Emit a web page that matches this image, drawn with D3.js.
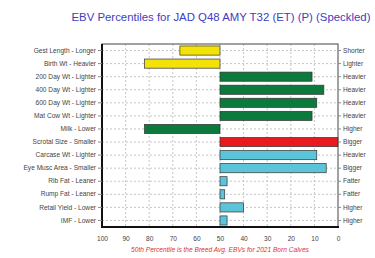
<!DOCTYPE html>
<html><head><meta charset="utf-8">
<script src="https://cdn.jsdelivr.net/npm/d3@7"></script>
<style>html,body{margin:0;padding:0;background:#fff;}svg{display:block;font-family:"Liberation Sans",Arial,sans-serif;}</style>
</head><body>
<script>
const traits = ["Gest Length - Longer","Birth Wt - Heavier","200 Day Wt - Lighter","400 Day Wt - Lighter","600 Day Wt - Lighter","Mat Cow Wt - Lighter","Milk - Lower","Scrotal Size - Smaller","Carcase Wt - Lighter","Eye Musc Area - Smaller","Rib Fat - Leaner","Rump Fat - Leaner","Retail Yield - Lower","IMF - Lower"];
const rightLabels = ["Shorter","Lighter","Heavier","Heavier","Heavier","Heavier","Higher","Bigger","Heavier","Bigger","Fatter","Fatter","Higher","Higher"];
const percentiles = [67,82,11,6,9,11,82,0,9,5,47,48,40,47];
const colors = ["#f2e205","#f2e205","#0b7a3c","#0b7a3c","#0b7a3c","#0b7a3c","#0b7a3c","#e8191f","#5cc4d9","#5cc4d9","#5cc4d9","#5cc4d9","#5cc4d9","#5cc4d9"];
const xTicks = [100,90,80,70,60,50,40,30,20,10,0];
const titleText = "EBV Percentiles for JAD Q48 AMY T32 (ET) (P) (Speckled)";
const noteText = "50th Percentile is the Breed Avg. EBVs for 2021 Born Calves";

const W=375,H=258, L=102, R=338, T=44, B=227;
const svg=d3.select("body").append("svg").attr("width",W).attr("height",H);
const x=d3.scaleLinear().domain([100,0]).range([L,R]);
const y=d3.scaleBand().domain(traits).range([T,B]).paddingInner(0.3).paddingOuter(0.15);

svg.append("text").attr("x",221).attr("y",21).attr("text-anchor","middle").attr("font-size",11.4).attr("fill","#4040c0").text(titleText);

// grid
const g=svg.append("g");
g.selectAll(".vg").data(xTicks.slice(1,-1)).enter().append("line")
 .attr("x1",d=>x(d)).attr("x2",d=>x(d)).attr("y1",T).attr("y2",B)
 .attr("stroke","#b8b8b8").attr("stroke-width",0.8).attr("stroke-dasharray","2,2");
g.selectAll(".hg").data(traits).enter().append("line")
 .attr("x1",L).attr("x2",R).attr("y1",d=>y(d)+y.bandwidth()/2).attr("y2",d=>y(d)+y.bandwidth()/2)
 .attr("stroke","#b8b8b8").attr("stroke-width",0.8).attr("stroke-dasharray","2,2");

// bars
svg.selectAll(".bar").data(traits).enter().append("rect")
 .attr("x",(d,i)=>Math.min(x(50),x(percentiles[i])))
 .attr("width",(d,i)=>Math.abs(x(percentiles[i])-x(50)))
 .attr("y",d=>y(d)).attr("height",y.bandwidth())
 .attr("fill",(d,i)=>colors[i]).attr("stroke","#333").attr("stroke-width",0.7);

// frame
svg.append("rect").attr("x",L).attr("y",T).attr("width",R-L).attr("height",B-T).attr("fill","none").attr("stroke","#444").attr("stroke-width",1);
svg.append("line").attr("x1",L).attr("x2",L).attr("y1",T).attr("y2",B+1).attr("stroke","#111").attr("stroke-width",2);
svg.append("line").attr("x1",L).attr("x2",R+1).attr("y1",B).attr("y2",B).attr("stroke","#111").attr("stroke-width",2);

// left labels
const ly=d3.axisLeft(y).tickSize(4).tickPadding(2);
const gl=svg.append("g").attr("transform",`translate(${L},0)`).call(ly);
gl.select(".domain").remove();
gl.selectAll("line").attr("stroke","#888");
gl.selectAll("text").attr("font-size",6.6).attr("fill","#444").attr("font-family","Liberation Sans, Arial, sans-serif");
// right labels
const ry=d3.axisRight(d3.scaleBand().domain(rightLabels.map((d,i)=>i)).range([T,B]).paddingInner(0.3).paddingOuter(0.15)).tickSize(3).tickPadding(2).tickFormat(i=>rightLabels[i]);
const gr=svg.append("g").attr("transform",`translate(${R},0)`).call(ry);
gr.select(".domain").remove();
gr.selectAll("line").attr("stroke","#888");
gr.selectAll("text").attr("font-size",6.6).attr("fill","#444").attr("font-family","Liberation Sans, Arial, sans-serif");
// bottom
const ax=d3.axisBottom(x).tickValues(xTicks).tickSize(0).tickPadding(9);
const gb=svg.append("g").attr("transform",`translate(0,${B})`).call(ax);
gb.select(".domain").remove();
gb.selectAll("text").attr("font-size",6.6).attr("fill","#444").attr("font-family","Liberation Sans, Arial, sans-serif");

svg.append("text").attr("x",220).attr("y",252).attr("text-anchor","middle").attr("font-size",6.6).attr("font-style","italic").attr("fill","#e03030").text(noteText);
</script>
</body></html>
